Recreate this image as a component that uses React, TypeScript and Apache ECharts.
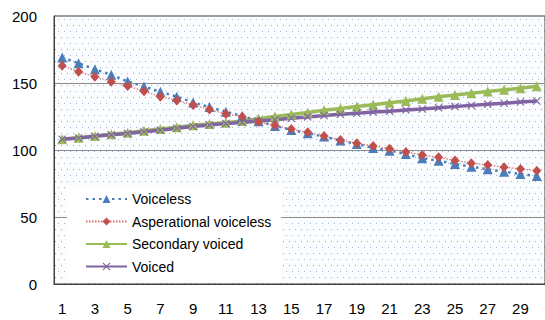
import React, { useEffect, useRef } from "react";
import * as echarts from "echarts";

const categories = Array.from({ length: 30 }, (_, i) => String(i + 1));

const voiceless = [169, 164.7, 160.3, 156.1, 151.1, 147.4, 143.4, 139.8, 135.5, 132, 128.5, 125.4, 121.5, 118, 115, 112.5, 110, 107, 104.5, 101.5, 99.5, 97, 93.8, 92, 89.6, 87.5, 85.6, 83.8, 82.1, 80.6];
const asperational = [162.9, 158.4, 154.7, 151, 147.8, 143.8, 139.8, 137, 133.6, 130.3, 126.9, 124.9, 121.1, 118.2, 115.6, 113.2, 110.4, 107.4, 105, 103, 101, 98.6, 96.3, 94.5, 92.2, 90.2, 88.8, 87.2, 85.9, 84.6];
const secondaryVoiced = [108, 109.2, 110.5, 111.7, 112.9, 114.3, 115.6, 117, 118.5, 119.4, 120.4, 121.6, 123.4, 125, 126.5, 128, 129.6, 131, 132.5, 133.8, 135.2, 136.6, 138.3, 139.7, 141.1, 142.4, 143.6, 144.9, 146.1, 147.6];
const voiced = [108, 109, 110.2, 111.3, 112.4, 113.6, 114.8, 116.2, 117.5, 118.6, 119.7, 120.5, 121.6, 122.6, 123.7, 124.7, 125.7, 126.6, 127.4, 128.3, 129, 129.8, 130.6, 131.6, 132.4, 133.3, 134.2, 134.9, 135.8, 136.6];

const seriesNames = ["Voiceless", "Asperational voiceless", "Secondary voiced", "Voiced"];

const xSymbol = "path://M0,1L1,0L5,4L9,0L10,1L6,5L10,9L9,10L5,6L1,10L0,9L4,5Z";

const dotTile =
  "data:image/svg+xml;charset=utf-8," +
  encodeURIComponent(
    '<svg xmlns="http://www.w3.org/2000/svg" width="6" height="12"><rect width="6" height="12" fill="#fbfcfe"/><rect x="1" y="1" width="1" height="1" fill="#8fb0dc"/><rect x="4" y="7" width="1" height="1" fill="#9ab6dc"/></svg>'
  );

export default function App() {
  const ref = useRef<HTMLDivElement>(null);
  useEffect(() => {
    if (!ref.current) return;
    const chart = echarts.init(ref.current, null, { renderer: "svg" });
    const font = "'Liberation Sans', Arial, sans-serif";
    chart.setOption({
      animation: false,
      backgroundColor: "#ffffff",
      grid: {
        show: true,
        left: 54,
        top: 16,
        width: 493,
        bottom: 36,
        backgroundColor: { image: dotTile, repeat: "repeat", imageWidth: 6, imageHeight: 12 } as any,
        borderColor: "#404040",
        borderWidth: 1,
      },
      legend: {
        orient: "vertical",
        left: 67,
        top: 186,
        padding: [6, 10, 7, 18],
        backgroundColor: "#ffffff",
        itemWidth: 41,
        itemHeight: 10,
        itemGap: 8.5,
        data: seriesNames,
        textStyle: { fontFamily: font, fontSize: 14, color: "#000" },
      },
      xAxis: {
        type: "category",
        data: categories,
        boundaryGap: true,
        axisLine: { show: true, lineStyle: { color: "#404040", width: 1 } },
        axisTick: { show: false },
        axisLabel: {
          interval: 1,
          fontFamily: font,
          fontSize: 15,
          color: "#000",
          margin: 17,
        },
        splitLine: { show: false },
      },
      yAxis: {
        type: "value",
        min: 0,
        max: 200,
        interval: 50,
        axisLine: { show: true, lineStyle: { color: "#404040", width: 1 } },
        axisTick: { show: false },
        axisLabel: { fontFamily: font, fontSize: 15, color: "#000", margin: 17 },
        splitLine: {
          show: true,
          showMinLine: false,
          showMaxLine: false,
          lineStyle: { color: "#8c8c8c", width: 1 },
        },
      },
      series: [
        {
          name: seriesNames[0],
          type: "line",
          data: voiceless,
          symbol: "triangle",
          symbolSize: 10,
          itemStyle: { color: "#4a7ebb" },
          lineStyle: { color: "#4a7ebb", width: 2.5, type: [2.5, 4] },
          z: 3,
        },
        {
          name: seriesNames[1],
          type: "line",
          data: asperational,
          symbol: "diamond",
          symbolSize: [9, 10],
          itemStyle: { color: "#c0504d" },
          lineStyle: { color: "#d0706d", width: 1.2, type: [1.5, 1.5] },
          z: 4,
        },
        {
          name: seriesNames[2],
          type: "line",
          data: secondaryVoiced,
          symbol: "triangle",
          symbolSize: 10,
          itemStyle: { color: "#9bbb59" },
          lineStyle: { color: "#9bbb59", width: 3.5 },
          z: 2,
        },
        {
          name: seriesNames[3],
          type: "line",
          data: voiced,
          symbol: xSymbol,
          symbolSize: 8,
          itemStyle: { color: "#8064a2" },
          lineStyle: { color: "#8064a2", width: 3.5 },
          z: 2,
        },
      ],
    });
    return () => chart.dispose();
  }, []);
  return <div ref={ref} style={{ width: 545, height: 320, position: "absolute", left: 0, top: 0 }} />;
}
